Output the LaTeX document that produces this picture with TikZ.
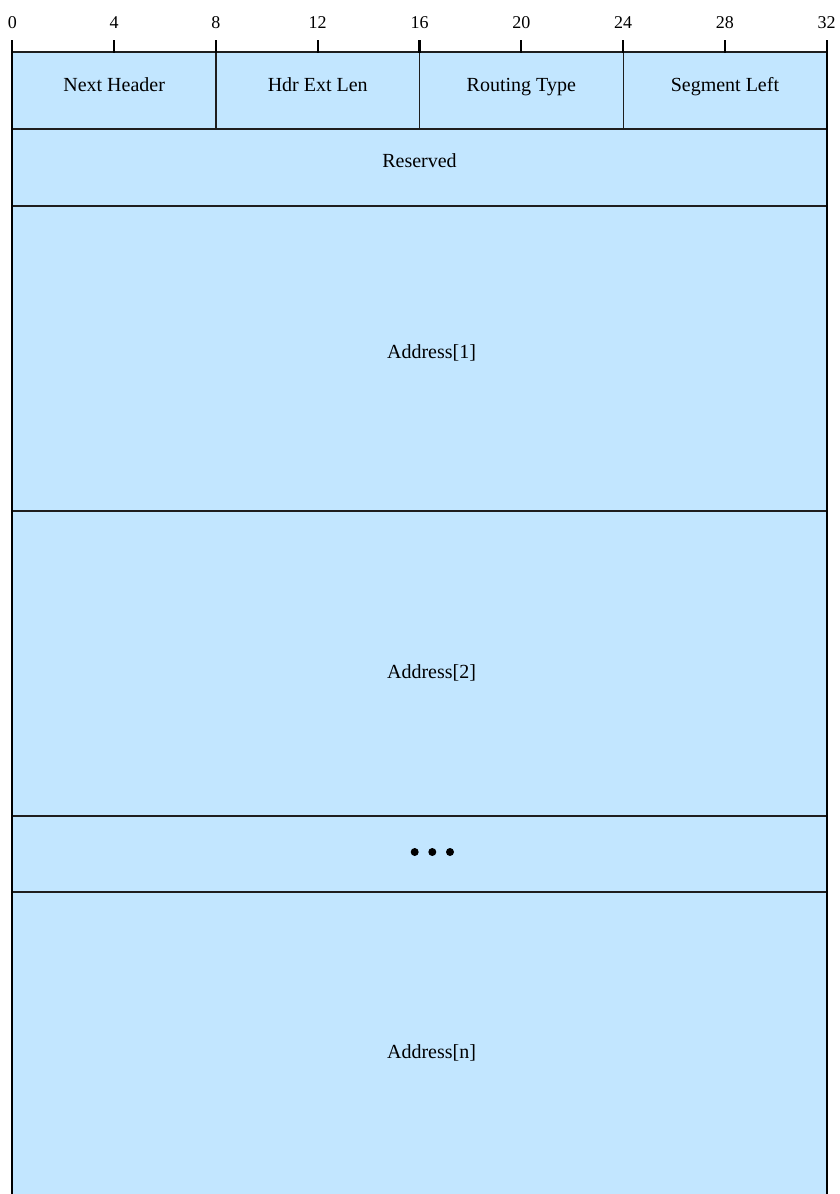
\documentclass[tikz,border=0pt]{standalone}
\usepackage{fontspec}
\setmainfont{Liberation Serif}
\definecolor{fieldblue}{RGB}{194,230,255}
\definecolor{linegray}{RGB}{30,30,30}
\begin{document}
\begin{tikzpicture}[x=1pt,y=-1pt,
  fieldbox/.style={draw=linegray,line width=1.2pt,fill=fieldblue,inner sep=0pt,outer sep=0pt},
  fieldtext/.style={font=\fontsize{20}{22}\selectfont,anchor=base,inner sep=0pt},
  bitnum/.style={font=\fontsize{18}{20}\selectfont,anchor=base,inner sep=0pt},
  tickline/.style={draw=black,line width=2.2pt},
  border/.style={draw=black,line width=2pt},
  dotmark/.style={circle,fill=black,inner sep=0pt,minimum size=8pt}]
\useasboundingbox (0,0) rectangle (840,1194);
% bit positions: x(b) = 12.3 + 25.45 b
\def\xa{12.3}\def\xe{826.7}
% fill of the whole body
\fill[fieldblue] (\xa,52) rectangle (\xe,1196);
% field boxes
\node[fieldbox,minimum width=203.6pt,minimum height=77pt] (nh) at (114.15,90.5) {};
\node[fieldbox,minimum width=203.6pt,minimum height=77pt] (hel) at (317.75,90.5) {};
\node[fieldbox,minimum width=203.6pt,minimum height=77pt] (rt) at (521.3,90.5) {};
\node[fieldbox,minimum width=203.6pt,minimum height=77pt] (sl) at (724.9,90.5) {};
\node[fieldbox,minimum width=814.4pt,minimum height=77pt] (res) at (419.5,167.5) {};
\node[fieldbox,minimum width=814.4pt,minimum height=305pt] (a1) at (419.5,358.5) {};
\node[fieldbox,minimum width=814.4pt,minimum height=305pt] (a2) at (419.5,663.5) {};
\node[fieldbox,minimum width=814.4pt,minimum height=76pt] (dots) at (419.5,854) {};
\fill[fieldblue] (\xa,892.6) rectangle (\xe,1196);
\draw[draw=linegray,line width=1.2pt] (\xa,892) -- (\xe,892);
% labels
\node[fieldtext] (tnh) at (114.15,91) {Next Header};
\node[fieldtext] (thel) at (317.75,91) {Hdr Ext Len};
\node[fieldtext] (trt) at (521.3,91) {Routing Type};
\node[fieldtext] (tsl) at (724.9,91) {Segment Left};
\node[fieldtext] (tres) at (419.5,167.5) {Reserved};
\node[fieldtext] (ta1) at (431.5,358.5) {Address[1]};
\node[fieldtext] (ta2) at (431.5,678.3) {Address[2]};
\node[fieldtext] (tan) at (431.5,1058) {Address[n]};
\node[dotmark] (d1) at (414.7,852) {};
\node[dotmark] (d2) at (432.3,852) {};
\node[dotmark] (d3) at (450.0,852) {};
% ticks
\foreach \b in {0,4,...,32}{
  \draw[tickline] ({12.3+25.45*\b},40) -- ({12.3+25.45*\b},52.5);
  \node[bitnum] (n\b) at ({12.3+25.45*\b},28) {\b};
}
% borders
\draw[border] (\xa,40) -- (\xa,1196);
\draw[border] (\xe,40) -- (\xe,1196);
\end{tikzpicture}
\end{document}
